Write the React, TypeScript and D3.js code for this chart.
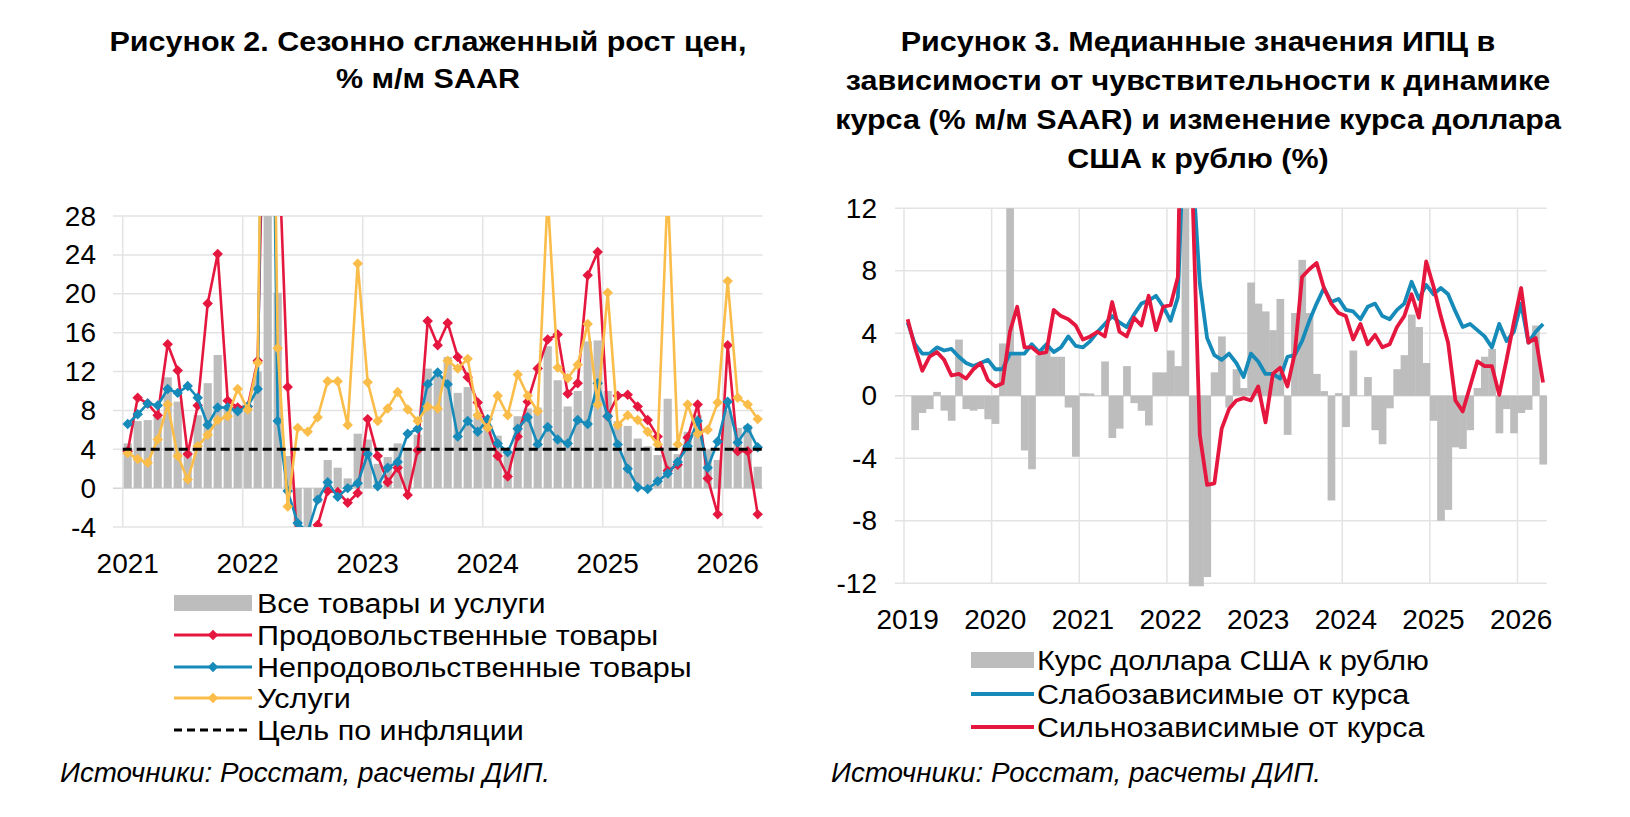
import React from 'react'
import * as d3 from 'd3'

const FONT = '"Liberation Sans", Arial, Helvetica, sans-serif'

// ---- Рисунок 2: январь 2021 – апрель 2026, % м/м SAAR ----
const months2 = d3.timeMonth.range(new Date(2021, 0, 1), new Date(2026, 4, 1))
const years2 = [2021, 2022, 2023, 2024, 2025, 2026]
const ticks2 = [-4, 0, 4, 8, 12, 16, 20, 24, 28]
const inflationTarget = 4

const allGoods = [
  4.6, 6.9, 7.0, 7.6, 11.4, 8.9, 3.8, 7.5, 10.8, 13.7, 8.5, 8.0,
  8.5, 12.0, 35.0, 20.1, 3.3, -4.5, -4.2, -1.5, 2.9, 2.1, 1.0, 5.6,
  5.0, 2.5, 3.2, 4.6, 4.0, 5.5, 12.3, 11.5, 13.5, 9.8, 10.4, 7.7,
  6.2, 5.4, 3.5, 7.4, 8.2, 8.3, 14.6, 11.1, 8.4, 10.0, 15.1, 15.2,
  10.0, 6.9, 6.4, 5.1, 4.3, 3.4, 9.2, 3.5, 5.8, 7.5, 4.0, 2.9,
  8.0, 6.2, 6.5, 2.2,
]
const food = [
  3.8, 9.3, 8.7, 7.5, 14.8, 12.1, 3.5, 8.5, 19.0, 24.1, 9.0, 8.3,
  8.4, 13.1, 60.0, 38.0, 10.4, -6.5, -6.0, -3.8, -0.3, -0.4, -1.5, -0.5,
  7.1, 3.3, 0.6, 2.1, -0.7, 3.9, 17.2, 14.7, 17.0, 13.5, 11.4, 8.8,
  6.3, 3.3, 1.2, 5.3, 8.9, 12.3, 15.3, 15.8, 9.7, 10.8, 21.9, 24.3,
  7.4, 9.5, 9.6, 8.4, 7.0, 5.3, 1.8, 2.4, 5.2, 8.6, 1.0, -2.7,
  14.7, 3.8, 3.8, -2.7,
]
const nonFood = [
  6.6, 7.6, 8.7, 8.5, 10.2, 9.8, 10.5, 9.3, 6.5, 8.3, 8.3, 7.9,
  8.4, 10.2, 85.0, 6.9, -0.3, -3.6, -4.5, -1.2, 0.6, -0.9, 0.0, 0.5,
  3.5, 0.2, 2.1, 2.7, 5.6, 6.1, 10.7, 11.9, 10.7, 5.3, 6.9, 5.8,
  7.1, 4.6, 3.7, 6.1, 7.3, 4.5, 6.3, 5.0, 4.6, 7.0, 6.6, 10.8,
  7.4, 4.5, 2.0, 0.1, -0.1, 0.7, 1.5, 2.7, 4.3, 6.9, 2.1, 4.8,
  8.9, 4.7, 6.2, 4.2,
]
const services = [
  3.6, 3.0, 2.6, 5.0, 8.6, 3.3, 0.9, 4.3, 5.5, 7.0, 7.4, 10.2,
  8.1, 12.9, 90.0, 14.4, -1.9, 6.2, 5.8, 7.3, 11.0, 11.0, 6.5, 23.1,
  10.9, 6.9, 8.2, 9.9, 8.1, 6.9, 8.4, 8.2, 13.1, 12.3, 13.3, 7.5,
  6.2, 9.5, 7.5, 11.7, 9.5, 7.9, 30.0, 12.4, 11.3, 12.7, 16.9, 8.6,
  20.1, 6.5, 7.5, 7.0, 5.8, 4.5, 31.0, 4.5, 8.6, 5.6, 6.0, 8.8,
  21.3, 9.3, 8.6, 7.1,
]

// ---- Рисунок 3: январь 2019 – апрель 2026 ----
const months3 = d3.timeMonth.range(new Date(2019, 0, 1), new Date(2026, 4, 1))
const years3 = [2019, 2020, 2021, 2022, 2023, 2024, 2025, 2026]
const ticks3 = [-12, -8, -4, 0, 4, 8, 12]

const usdRub = [
  0.0, -2.2, -1.1, -0.85, 0.25, -0.95, -1.6, 3.6, -0.85, -0.95, -0.85, -1.5,
  -1.8, 3.35, 14.0, 2.6, -3.5, -4.7, 2.6, 3.1, 2.5, 2.5, -0.75, -3.9,
  0.17, 0.15, 0.0, 2.2, -2.7, -2.1, 1.9, -0.47, -0.96, -1.9, 1.5, 1.5,
  2.9, 1.9, 20.0, -12.3, -12.3, -11.6, 1.5, 3.8, -0.75, 1.7, 0.5, 7.25,
  5.9, 5.4, 4.2, 6.2, -2.5, 5.3, 8.7, 5.3, 1.4, 0.3, -6.7, 0.17,
  -2.0, 2.9, 0.0, 1.2, -2.2, -3.1, -0.8, 1.7, 2.6, 5.2, 4.4, 2.1,
  -1.6, -8.0, -7.3, -3.3, -3.4, -2.2, 0.5, 2.5, 3.0, -2.4, -0.85, -2.4,
  -1.1, -0.9, 4.5, -4.4,
]
const weakDep = [
  4.7, 3.3, 2.7, 2.7, 3.1, 2.9, 3.0, 2.5, 2.1, 1.9, 2.1, 2.3,
  1.7, 1.7, 2.7, 2.7, 2.7, 3.3, 2.8, 3.3, 2.8, 3.1, 3.8, 3.2,
  3.1, 3.5, 4.1, 4.6, 5.1, 4.7, 4.4, 5.2, 5.9, 6.1, 6.4, 5.7,
  4.8, 6.3, 19.0, 14.7, 7.2, 3.7, 2.6, 2.3, 2.7, 2.1, 1.2, 2.7,
  2.2, 1.4, 1.4, 1.1, 2.5, 2.6, 3.5, 4.8, 5.9, 6.9, 6.0, 6.2,
  5.5, 5.4, 4.9, 5.7, 5.9, 5.1, 4.9, 5.5, 5.9, 7.3, 6.2, 7.1,
  6.5, 6.9, 6.5, 5.4, 4.4, 4.6, 4.2, 3.8, 3.1, 4.6, 3.5, 4.1,
  5.9, 3.4, 4.1, 4.6,
]
const strongDep = [
  4.9, 3.1, 1.6, 2.5, 2.8, 2.3, 1.3, 1.4, 1.1, 1.7, 2.1, 1.0,
  0.6, 0.8, 4.1, 5.7, 3.1, 3.1, 2.7, 2.8, 5.5, 5.1, 4.9, 4.5,
  3.6, 3.8, 4.1, 3.8, 6.0, 4.1, 3.8, 5.0, 4.5, 6.4, 4.2, 5.7,
  5.8, 7.6, 35.0, 13.0, -2.5, -5.7, -5.6, -2.1, -0.85, -0.3, -0.15, -0.3,
  0.6, -1.7, 1.4, 1.8, 0.6, 2.7, 7.6, 8.1, 8.5, 6.9, 5.9, 5.3,
  5.1, 3.6, 4.6, 3.3, 3.9, 3.1, 3.3, 4.4, 5.1, 6.5, 5.0, 8.6,
  7.0, 5.1, 3.4, -0.3, -1.0, 0.6, 2.2, 1.9, 1.9, 0.06, 2.3, 4.7,
  6.9, 3.4, 3.7, 0.85,
]

const RED = '#e5173f'
const BLUE = '#168ab9'
const YELLOW = '#fbbd49'
const GRAY_BAR = '#bdbdbd'
const GRID = '#e3e3e3'

const Diamond: React.FC<{ x: number; y: number; color: string; s?: number }> = ({ x, y, color, s = 7.4 }) => (
  <rect x={x - s / 2} y={y - s / 2} width={s} height={s} fill={color} transform={`rotate(45 ${x} ${y})`} />
)

// текст слегка растянут по горизонтали, как в исходной картинке
const T: React.FC<{
  x: number; y: number; size?: number; sx?: number; anchor?: 'start' | 'middle' | 'end'
  bold?: boolean; italic?: boolean; baseline?: boolean; children: React.ReactNode
}> = ({ x, y, size = 28, sx = 1, anchor = 'start', bold, italic, baseline, children }) => (
  <text
    transform={`translate(${x},${y}) scale(${sx},1)`}
    fontFamily={FONT}
    fontSize={size}
    fontWeight={bold ? 'bold' : 'normal'}
    fontStyle={italic ? 'italic' : 'normal'}
    textAnchor={anchor}
    dominantBaseline={baseline ? 'auto' : 'central'}
    fill="#000"
  >
    {children}
  </text>
)

const Figure2: React.FC = () => {
  const x = d3.scaleBand<number>().domain(d3.range(months2.length)).range([122.7, 762.7])
  const y = d3.scaleLinear().domain([-4, 28]).range([527, 216])
  const step = x.step()
  const cx = (i: number) => (x(i) as number) + step / 2
  const barW = step * 0.82
  const line = d3.line<number>().x((_, i) => cx(i)).y(d => y(d))
  const jan = (yr: number) => months2.findIndex(m => m.getFullYear() === yr && m.getMonth() === 0)

  const series = [
    { name: 'Продовольственные товары', data: food, color: RED },
    { name: 'Непродовольственные товары', data: nonFood, color: BLUE },
    { name: 'Услуги', data: services, color: YELLOW },
  ]
  const legendY = [603, 635, 667, 698, 730]

  return (
    <g>
      <defs>
        <clipPath id="clip2">
          <rect x={118} y={y(28)} width={650} height={y(-4) - y(28)} />
        </clipPath>
      </defs>
      <T x={428} y={51} size={27} sx={1.13} anchor="middle" bold baseline>Рисунок 2. Сезонно сглаженный рост цен,</T>
      <T x={428} y={88} size={27} sx={1.13} anchor="middle" bold baseline>% м/м SAAR</T>

      {ticks2.map(t => (
        <line key={t} x1={113} x2={762.7} y1={y(t)} y2={y(t)} stroke={t === 0 ? '#d6d6d6' : GRID} strokeWidth={1.5} />
      ))}
      <line x1={122.7} x2={122.7} y1={y(28)} y2={y(-4)} stroke={GRID} strokeWidth={1.5} />
      {years2.slice(1).map(yr => (
        <line key={yr} x1={x(jan(yr))} x2={x(jan(yr))} y1={y(28)} y2={y(-4)} stroke={GRID} strokeWidth={1.5} />
      ))}

      <g clipPath="url(#clip2)">
        {allGoods.map((v, i) => (
          <rect key={i} x={cx(i) - barW / 2} width={barW} y={y(Math.max(v, 0))} height={Math.abs(y(v) - y(0))} fill={GRAY_BAR} />
        ))}
        {series.map(s => (
          <g key={s.name}>
            <path d={line(s.data) as string} fill="none" stroke={s.color} strokeWidth={2.6} strokeLinejoin="round" />
            {s.data.map((v, i) => <Diamond key={i} x={cx(i)} y={y(v)} color={s.color} />)}
          </g>
        ))}
        <line x1={122.7} x2={762.7} y1={y(inflationTarget)} y2={y(inflationTarget)} stroke="#000" strokeWidth={3} strokeDasharray="9 5" />
      </g>

      {ticks2.map(t => (
        <T key={t} x={96} y={y(t)} anchor="end">{t}</T>
      ))}
      {years2.map(yr => (
        <T key={yr} x={cx(jan(yr))} y={563} anchor="middle">{yr}</T>
      ))}

      <rect x={174} y={legendY[0] - 8} width={78} height={16} fill={GRAY_BAR} />
      <T x={257} y={legendY[0]} sx={1.09}>Все товары и услуги</T>
      {series.map((s, k) => {
        const ly = legendY[k + 1]
        return (
          <g key={s.name}>
            <line x1={174} x2={252} y1={ly} y2={ly} stroke={s.color} strokeWidth={3} />
            <Diamond x={213} y={ly} color={s.color} />
            <T x={257} y={ly} sx={1.09}>{s.name}</T>
          </g>
        )
      })}
      <line x1={174} x2={252} y1={legendY[4]} y2={legendY[4]} stroke="#000" strokeWidth={3} strokeDasharray="8 5" />
      <T x={257} y={legendY[4]} sx={1.09}>Цель по инфляции</T>
      <T x={60} y={773} size={27} sx={1.03} italic>Источники: Росстат, расчеты ДИП.</T>
    </g>
  )
}

const Figure3: React.FC = () => {
  const x = d3.scaleBand<number>().domain(d3.range(months3.length)).range([904, 1546.7])
  const y = d3.scaleLinear().domain([-12, 12]).range([583.3, 208.3])
  const step = x.step()
  const cx = (i: number) => (x(i) as number) + step / 2
  const line = d3.line<number>().x((_, i) => cx(i)).y(d => y(d))
  const jan = (yr: number) => months3.findIndex(m => m.getFullYear() === yr && m.getMonth() === 0)

  const series = [
    { name: 'Слабозависимые от курса', data: weakDep, color: BLUE },
    { name: 'Сильнозависимые от курса', data: strongDep, color: RED },
  ]
  const titleLines = [
    'Рисунок 3. Медианные значения ИПЦ в',
    'зависимости от чувствительности к динамике',
    'курса (% м/м SAAR) и изменение курса доллара',
    'США к рублю (%)',
  ]
  const legendY = [660, 694, 727]

  return (
    <g>
      <defs>
        <clipPath id="clip3">
          <rect x={895} y={y(12)} width={660} height={y(-12) - y(12) + 3} />
        </clipPath>
      </defs>
      {titleLines.map((t, k) => (
        <T key={k} x={1198} y={51 + k * 39} size={27} sx={1.13} anchor="middle" bold baseline>{t}</T>
      ))}

      {ticks3.map(t => (
        <line key={t} x1={895} x2={1546.7} y1={y(t)} y2={y(t)} stroke={t === 0 ? '#d6d6d6' : GRID} strokeWidth={1.5} />
      ))}
      <line x1={904} x2={904} y1={y(12)} y2={y(-12)} stroke={GRID} strokeWidth={1.5} />
      {years3.slice(1).map(yr => (
        <line key={yr} x1={x(jan(yr))} x2={x(jan(yr))} y1={y(12)} y2={y(-12)} stroke={GRID} strokeWidth={1.5} />
      ))}

      <g clipPath="url(#clip3)">
        {usdRub.map((v, i) => (
          <rect key={i} x={x(i)} width={step + 0.4} y={y(Math.max(v, 0))} height={Math.abs(y(v) - y(0))} fill={GRAY_BAR} />
        ))}
        {series.map(s => (
          <path key={s.name} d={line(s.data) as string} fill="none" stroke={s.color} strokeWidth={3.8} strokeLinejoin="round" />
        ))}
      </g>

      {ticks3.map(t => (
        <T key={t} x={877} y={y(t)} anchor="end">{t}</T>
      ))}
      {years3.map(yr => (
        <T key={yr} x={cx(jan(yr))} y={619} anchor="middle">{yr}</T>
      ))}

      <rect x={971} y={legendY[0] - 8} width={63} height={16} fill={GRAY_BAR} />
      <T x={1037} y={legendY[0]} sx={1.09}>Курс доллара США к рублю</T>
      {series.map((s, k) => {
        const ly = legendY[k + 1]
        return (
          <g key={s.name}>
            <line x1={971} x2={1034} y1={ly} y2={ly} stroke={s.color} strokeWidth={4} />
            <T x={1037} y={ly} sx={1.09}>{s.name}</T>
          </g>
        )
      })}
      <T x={831} y={773} size={27} sx={1.03} italic>Источники: Росстат, расчеты ДИП.</T>
    </g>
  )
}

export default function App() {
  return (
    <div style={{ position: 'absolute', left: 0, top: 0 }}>
      <svg width={1630} height={817} style={{ display: 'block', background: '#fff' }}>
        <Figure2 />
        <Figure3 />
      </svg>
    </div>
  )
}
